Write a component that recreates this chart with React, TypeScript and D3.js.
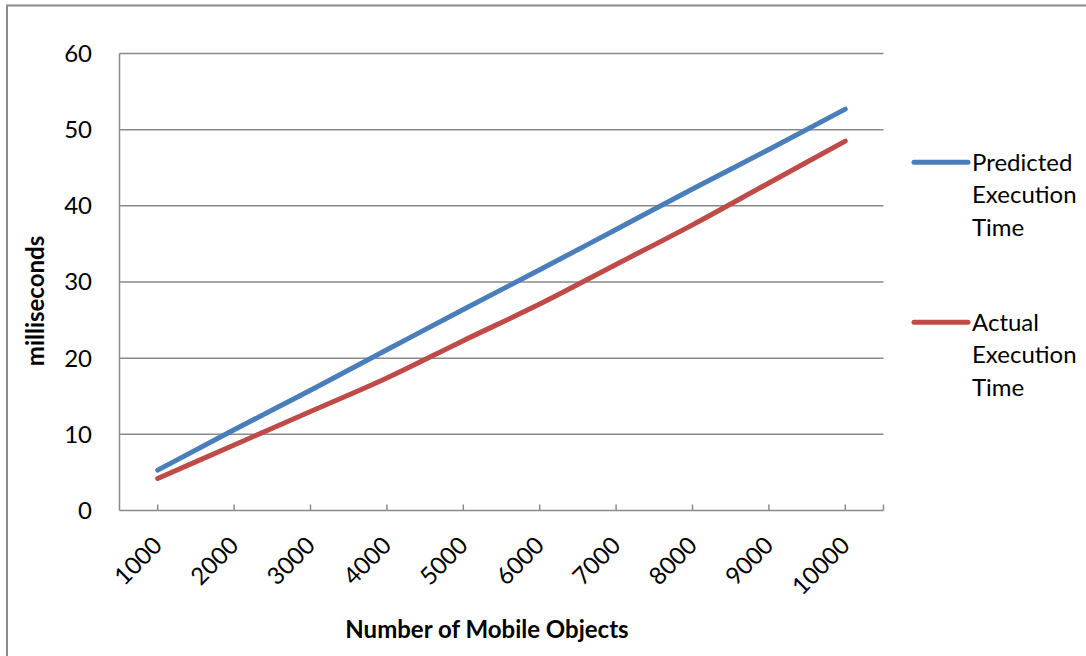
import React, { useEffect, useRef } from "react";
import * as d3 from "d3";

// Number of mobile objects (categories on the x axis)
const categories: string[] = ["1000", "2000", "3000", "4000", "5000", "6000", "7000", "8000", "9000", "10000"];

// Execution times in milliseconds
const predicted: number[] = [5.3, 10.6, 15.8, 21.1, 26.4, 31.6, 36.9, 42.2, 47.4, 52.7];
const actual: number[] = [4.2, 8.6, 13.0, 17.4, 22.3, 27.1, 32.3, 37.5, 43.0, 48.5];

const yTicks: number[] = [0, 10, 20, 30, 40, 50, 60];

const seriesNames: string[][] = [
  ["Predicted", "Execution", "Time"],
  ["Actual", "Execution", "Time"],
];
const seriesColors: string[] = ["#4A7EBB", "#BE4B48"];

const W = 1086;
const H = 656;
const FONT = "Lato, 'Open Sans', sans-serif";
const FS = 24;

export default function App() {
  const ref = useRef<SVGSVGElement | null>(null);

  useEffect(() => {
    const svg = d3.select(ref.current);
    svg.selectAll("*").remove();

    const plot = { left: 119.5, right: 883.5, top: 53.5, bottom: 510.5 };

    // outer chart frame
    svg
      .append("rect")
      .attr("x", 7)
      .attr("y", 5.5)
      .attr("width", W + 20)
      .attr("height", H + 20)
      .attr("fill", "#fff")
      .attr("stroke", "#8a8a8a")
      .attr("stroke-width", 2);

    const x = d3.scaleBand<string>().domain(categories).range([plot.left, plot.right]);
    const y = d3.scaleLinear().domain([0, 60]).range([plot.bottom, plot.top]);
    const cx = (c: string) => (x(c) as number) + x.bandwidth() / 2;

    // horizontal gridlines
    svg
      .append("g")
      .selectAll("line")
      .data(yTicks)
      .join("line")
      .attr("x1", plot.left)
      .attr("x2", plot.right)
      .attr("y1", (d) => y(d))
      .attr("y2", (d) => y(d))
      .attr("stroke", "#8a8a8a")
      .attr("stroke-width", 1.5);

    // y axis line
    svg
      .append("line")
      .attr("x1", plot.left)
      .attr("x2", plot.left)
      .attr("y1", plot.top)
      .attr("y2", plot.bottom)
      .attr("stroke", "#8a8a8a")
      .attr("stroke-width", 1.5);

    // x tick marks at each category plus the axis end
    const tickXs = categories.map(cx).concat([plot.right]);
    svg
      .append("g")
      .selectAll("line")
      .data(tickXs)
      .join("line")
      .attr("x1", (d) => d)
      .attr("x2", (d) => d)
      .attr("y1", plot.bottom - 6)
      .attr("y2", plot.bottom)
      .attr("stroke", "#8a8a8a")
      .attr("stroke-width", 1.5);

    // y tick labels
    svg
      .append("g")
      .selectAll("text")
      .data(yTicks)
      .join("text")
      .attr("x", 92)
      .attr("y", (d) => y(d))
      .attr("dy", "0.35em")
      .attr("text-anchor", "end")
      .attr("font-family", FONT)
      .attr("font-size", FS)
      .attr("fill", "#000")
      .text((d) => String(d));

    // x tick labels, rotated
    svg
      .append("g")
      .selectAll("text")
      .data(categories)
      .join("text")
      .attr("transform", (d) => `translate(${cx(d) + 6},${547}) rotate(-45)`)
      .attr("text-anchor", "end")
      .attr("font-family", FONT)
      .attr("font-size", FS)
      .attr("fill", "#000")
      .text((d) => d);

    // series lines
    const line = d3
      .line<number>()
      .x((_, i) => cx(categories[i]))
      .y((d) => y(d))
      .curve(d3.curveMonotoneX);

    [predicted, actual].forEach((vals, i) => {
      svg
        .append("path")
        .datum(vals)
        .attr("d", line)
        .attr("fill", "none")
        .attr("stroke", seriesColors[i])
        .attr("stroke-width", 5)
        .attr("stroke-linecap", "round")
        .attr("stroke-linejoin", "round");
    });

    // axis titles
    svg
      .append("text")
      .attr("x", 487)
      .attr("y", 638)
      .attr("text-anchor", "middle")
      .attr("font-family", FONT)
      .attr("font-size", FS)
      .attr("font-weight", "bold")
      .attr("fill", "#000")
      .text("Number of Mobile Objects");

    svg
      .append("text")
      .attr("transform", "translate(44,301) rotate(-90)")
      .attr("text-anchor", "middle")
      .attr("font-family", FONT)
      .attr("font-size", FS)
      .attr("font-weight", "bold")
      .attr("fill", "#000")
      .text("milliseconds");

    // legend
    const legendY = [162.3, 322.3];
    seriesNames.forEach((lines, i) => {
      const g = svg.append("g");
      g.append("line")
        .attr("x1", 914)
        .attr("x2", 968)
        .attr("y1", legendY[i])
        .attr("y2", legendY[i])
        .attr("stroke", seriesColors[i])
        .attr("stroke-width", 5)
        .attr("stroke-linecap", "round");
      lines.forEach((t, j) => {
        g.append("text")
          .attr("x", 972)
          .attr("y", legendY[i] + j * 32.7)
          .attr("dy", "0.35em")
          .attr("font-family", FONT)
          .attr("font-size", FS)
          .attr("fill", "#000")
          .text(t);
      });
    });
  }, []);

  return (
    <svg
      ref={ref}
      width={W}
      height={H}
      style={{ position: "absolute", left: 0, top: 0, background: "#fff" }}
    />
  );
}
